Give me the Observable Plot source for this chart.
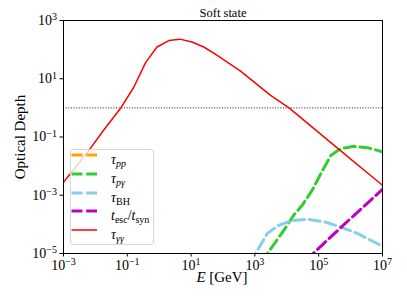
<!DOCTYPE html>
<html><head><meta charset="utf-8">
<script src="https://cdn.jsdelivr.net/npm/d3@7"></script>
<script src="https://cdn.jsdelivr.net/npm/@observablehq/plot@0.6"></script>
<style>
body{margin:0;background:#fff;}
#wrap{position:relative;width:407px;height:305px;font-family:"Liberation Serif",serif;color:#000;}
#wrap svg{position:absolute;left:0;top:0;}
.lab{position:absolute;white-space:nowrap;font-size:15px;}
.legend{position:absolute;left:70px;top:149px;width:84px;height:96px;border:1px solid #d6d6d6;border-radius:3px;background:rgba(255,255,255,0.8);box-sizing:border-box;}
.lrow{position:absolute;left:0;height:18px;width:84px;}
.lrow svg{position:absolute;left:4px;top:5px;}
.ltxt{position:absolute;left:40px;top:0;font-size:14px;line-height:18px;font-family:"Liberation Serif",serif;}
.ltxt sub{font-size:10px;vertical-align:-3px;line-height:0;}
</style></head><body><div id="wrap"></div>
<script>
// tau_gamma-gamma
const ggE   = [1e-3, 6.9e-3, 0.018, 0.060, 0.16, 0.37, 0.85, 2.0, 4.4, 10.7, 25, 66, 355, 3100, 11750, 4.4e5, 1e7];
const ggTau = [2.8e-3, 0.040, 0.17, 0.93, 5.1, 35, 123, 204, 229, 182, 123, 63, 18.2, 2.7, 1.0, 0.037, 2.2e-3];
// tau_p-gamma
const pgE   = [1585, 2455, 8130, 16600, 30900, 63000, 1.32e5, 2.4e5, 4.9e5, 1.29e6, 3.4e6, 1e7];
const pgTau = [5.1e-6, 1e-5, 6.3e-5, 2.1e-4, 4.6e-4, 1.5e-3, 7.2e-3, 0.023, 0.040, 0.048, 0.043, 0.031];
// tau_BH
const bhE   = [708, 1047, 2455, 5620, 13200, 43600, 1.48e5, 4.9e5, 1.62e6, 1e7];
const bhTau = [4.8e-6, 1e-5, 4.9e-5, 9.3e-5, 1.32e-4, 1.51e-4, 1.23e-4, 8.1e-5, 4.9e-5, 1.78e-5];
// t_esc / t_syn
const synE   = [4e4, 6.3e5, 1e7];
const synTau = [5.9e-6, 1.0e-4, 1.6e-3];
// tau_pp (entirely below the plotted range)
const ppE   = [];
const ppTau = [];

const xTicks = [1e-3, 1e-1, 1e1, 1e3, 1e5, 1e7];
const yTicks = [1e-5, 1e-3, 1e-1, 1e1, 1e3];
const thresholdTau = [1];
const title = "Soft state";

const series = [
  {key:"pp",  E:ppE,  tau:ppTau,  color:"#ffa500", dashed:true,  label:'<i>τ</i><sub><i>pp</i></sub>'},
  {key:"pg",  E:pgE,  tau:pgTau,  color:"#32cd32", dashed:true,  label:'<i>τ</i><sub><i>pγ</i></sub>'},
  {key:"bh",  E:bhE,  tau:bhTau,  color:"#87ceeb", dashed:true,  label:'<i>τ</i><sub>BH</sub>'},
  {key:"syn", E:synE, tau:synTau, color:"#bf00bf", dashed:true,  label:'<i>t</i><sub>esc</sub>/<i>t</i><sub>syn</sub>'},
  {key:"gg",  E:ggE,  tau:ggTau,  color:"#ff0000", dashed:false, label:'<i>τ</i><sub><i>γγ</i></sub>'}
];

const fmt = d => "10^" + Math.round(Math.log10(d));

const marks = [
  Plot.ruleY(thresholdTau, {stroke:"#000", strokeWidth:0.9, strokeDasharray:"1,1.65"}),
  ...series.filter(s => s.E.length).map(s => {
    const rows = s.E.map((e, i) => ({E:e, tau:s.tau[i]}));
    return Plot.line(rows, {x:"E", y:"tau", stroke:s.color,
      strokeWidth: s.dashed ? 3 : 1.5,
      strokeDasharray: s.dashed ? "11.1,4.8" : null, clip:true});
  }),
  Plot.frame({stroke:"#000", strokeWidth:1}),
  Plot.axisX({ticks:xTicks, tickFormat:fmt, tickSize:3.5, tickPadding:3, label:null, fontSize:14}),
  Plot.axisY({ticks:yTicks, tickFormat:fmt, tickSize:3.5, tickPadding:3, label:null, fontSize:14}),
  Plot.text([title], {frameAnchor:"top", lineAnchor:"middle", dy:-7.5, fontSize:12.5, fill:"#000"})
];

const svg = Plot.plot({
  width:407, height:305,
  marginLeft:63, marginRight:25, marginTop:20, marginBottom:52,
  x:{type:"log", domain:[1e-3, 1e7]},
  y:{type:"log", domain:[1e-5, 1e3]},
  style:{fontFamily:'"Liberation Serif", serif', fontSize:"14px", color:"#000", background:"#fff"},
  marks
});

d3.select(svg).selectAll('g[aria-label$="tick label"] text').each(function(){
  const t = d3.select(this);
  const m = t.text().match(/^10\^(.*)$/);
  if (!m) return;
  t.text(null);
  t.append("tspan").text("10");
  t.append("tspan").attr("dy","-0.45em").attr("font-size","0.72em").text(m[1].replace("-", "−"));
});

const wrap = document.getElementById("wrap");
wrap.appendChild(svg);

const xl = document.createElement("div");
xl.className = "lab";
xl.innerHTML = '<i>E</i> [GeV]';
xl.style.left = "222px"; xl.style.top = "277px";
xl.style.transform = "translate(-50%,-50%)";
wrap.appendChild(xl);

const yl = document.createElement("div");
yl.className = "lab";
yl.textContent = "Optical Depth";
yl.style.left = "20px"; yl.style.top = "137px";
yl.style.transform = "translate(-50%,-50%) rotate(-90deg)";
wrap.appendChild(yl);

const leg = document.createElement("div");
leg.className = "legend";
series.forEach((s, i) => {
  const r = document.createElement("div");
  r.className = "lrow";
  r.style.top = (1 + i * 18.75) + "px";
  r.innerHTML = `<svg width="27" height="8"><line x1="0.5" y1="4" x2="26" y2="4" stroke="${s.color}" stroke-width="${s.dashed ? 3 : 1.5}" ${s.dashed ? 'stroke-dasharray="11,3.7"' : ''}/></svg><span class="ltxt">${s.label}</span>`;
  leg.appendChild(r);
});
wrap.appendChild(leg);
</script></body></html>
